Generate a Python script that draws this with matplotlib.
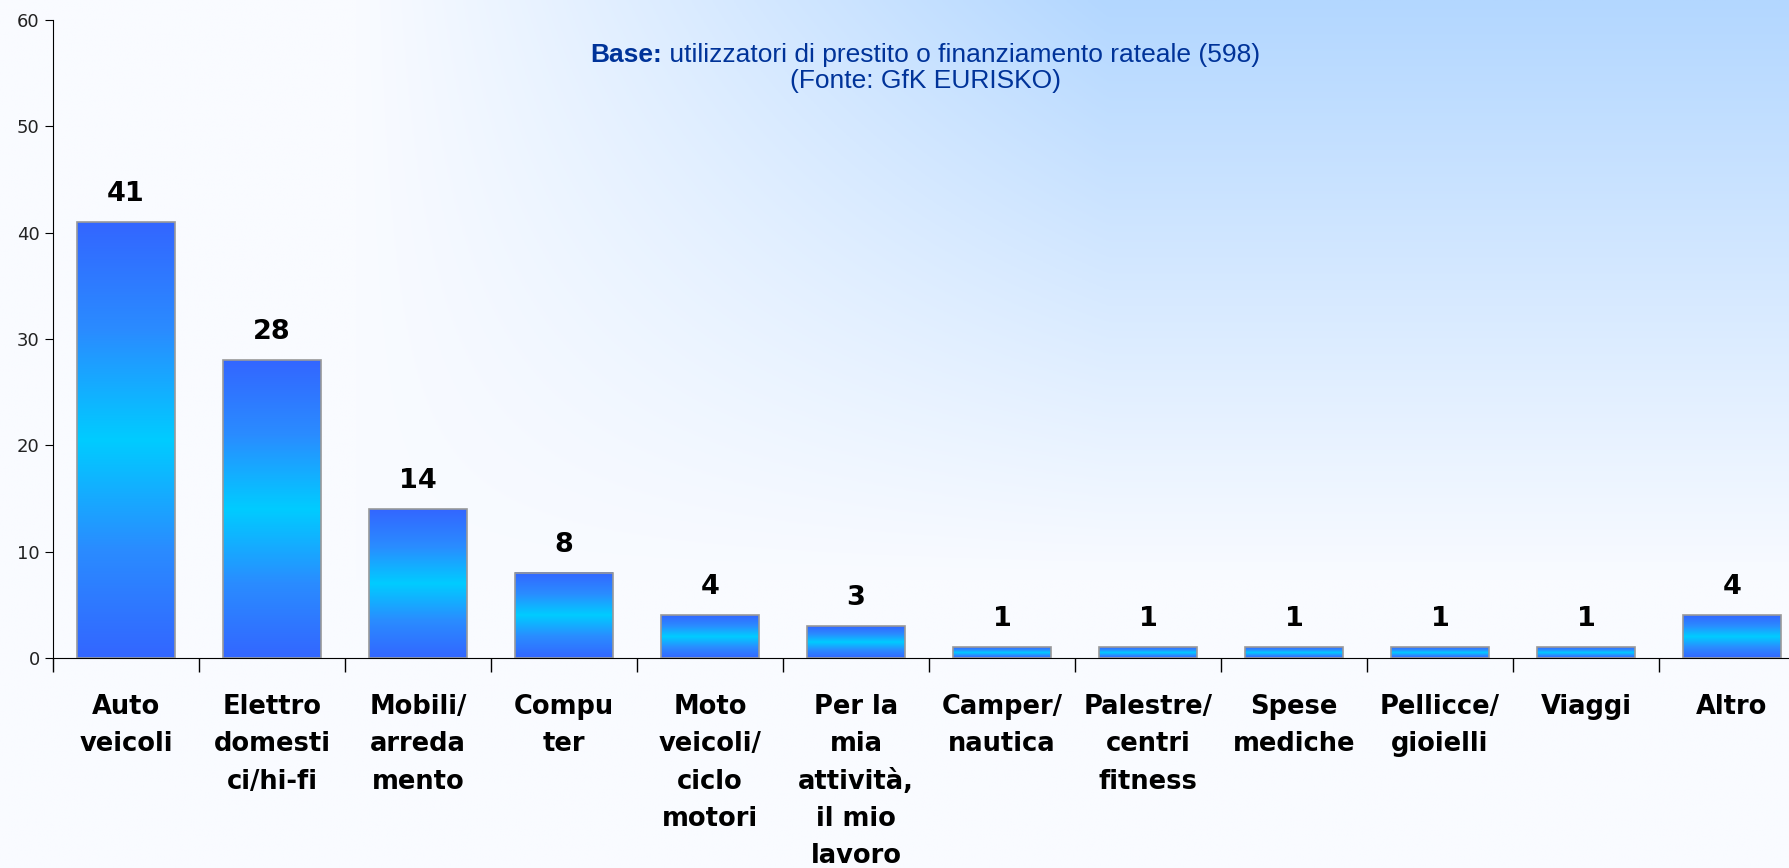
import numpy as np
import matplotlib
matplotlib.use('Agg')
import matplotlib.pyplot as plt
from matplotlib.colors import LinearSegmentedColormap

categories = ['Auto\nveicoli', 'Elettro\ndomesti\nci/hi-fi', 'Mobili/\narreda\nmento',
              'Compu\nter', 'Moto\nveicoli/\nciclo\nmotori',
              'Per la\nmia\nattività,\nil mio\nlavoro', 'Camper/\nnautica',
              'Palestre/\ncentri\nfitness', 'Spese\nmediche', 'Pellicce/\ngioielli',
              'Viaggi', 'Altro']
values = [41, 28, 14, 8, 4, 3, 1, 1, 1, 1, 1, 4]
y_ticks = [0, 10, 20, 30, 40, 50, 60]

fig = plt.figure(figsize=(17.89, 8.68), dpi=100)

# background gradient (light blue towards the top right)
bg = fig.add_axes([0, 0, 1, 1], zorder=0)
xx, yy = np.meshgrid(np.linspace(0, 1, 600), np.linspace(0, 1, 300))
fx = np.clip((xx - 0.2) / 0.42, 0, 1)
gy = np.clip(1 - 1.5 * yy, 0, 1)
t = fx * gy
c0 = np.array([0xF9, 0xFB, 0xFF]) / 255
c1 = np.array([0xB3, 0xD7, 0xFF]) / 255
img = c0 + (c1 - c0) * t[..., None]
bg.imshow(img, extent=[0, 1, 0, 1], aspect='auto', origin='upper')
bg.axis('off')

ax = fig.add_axes([53 / 1789, 1 - 658 / 868, 1752 / 1789, 638 / 868], zorder=1)
ax.set_facecolor('none')

bar_cmap = LinearSegmentedColormap.from_list('bar', ['#3366ff', '#2a8cff', '#00ccff', '#2a8cff', '#3366ff'])
grad = np.linspace(0, 1, 256).reshape(-1, 1)
width = 0.67
for i, v in enumerate(values):
    ax.imshow(grad, cmap=bar_cmap, extent=[i - width / 2, i + width / 2, 0, v],
              aspect='auto', zorder=2)
    ax.add_patch(plt.Rectangle((i - width / 2, 0), width, v, fill=False,
                               edgecolor='#999999', linewidth=1.2, zorder=3))
    ax.annotate(str(v), (i, v), xytext=(0, 11), textcoords='offset points',
                ha='center', va='bottom', fontsize=19.5, fontweight='bold', color='black')

ax.set_xlim(-0.5, len(values) - 0.5)
ax.set_ylim(0, 60)
ax.set_yticks(y_ticks)
ax.tick_params(axis='y', labelsize=13, length=6, colors='black', labelcolor='#222222')
ax.set_xticks(np.arange(len(values)) - 0.5, minor=False)
ax.set_xticklabels([])
ax.tick_params(axis='x', length=10, width=1)
ax.set_xticks(np.arange(len(values)), minor=True)
ax.set_xticklabels(categories, minor=True, fontsize=18.5, fontweight='bold',
                   linespacing=1.56, va='top')
ax.tick_params(axis='x', which='minor', length=0, pad=26)
for s in ['top', 'right']:
    ax.spines[s].set_visible(False)
ax.spines['left'].set_color('black')
ax.spines['bottom'].set_color('black')

# header: "Base:" in bold, rest regular, both lines centred
hx = 925 / 1789
base_bold = fig.text(0, 0.937, 'Base:', fontsize=19, fontweight='bold', color='#003399',
                     family='Liberation Sans', va='center')
base_rest = fig.text(0, 0.937, ' utilizzatori di prestito o finanziamento rateale (598)',
                     fontsize=19, color='#003399', family='Liberation Sans', va='center')
fig.canvas.draw()
r = fig.canvas.get_renderer()
w1 = base_bold.get_window_extent(r).width / fig.bbox.width
w2 = base_rest.get_window_extent(r).width / fig.bbox.width
x0 = hx - (w1 + w2) / 2
base_bold.set_x(x0)
base_rest.set_x(x0 + w1)
fig.text(hx, 0.907, '(Fonte: GfK EURISKO)', fontsize=19, color='#003399',
         family='Liberation Sans', ha='center', va='center')

fig.savefig('out.png', dpi=100)
